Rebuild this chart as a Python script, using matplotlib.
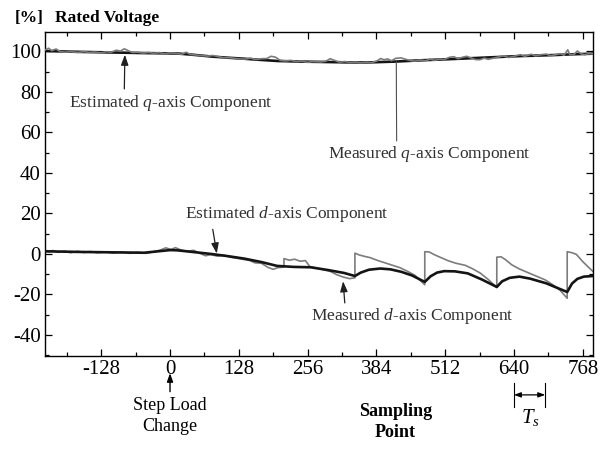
import matplotlib

matplotlib.use("Agg")
import matplotlib.pyplot as plt
from matplotlib.ticker import MultipleLocator

plt.rcParams["font.family"] = ["Liberation Serif", "DejaVu Serif"]
plt.rcParams["mathtext.fontset"] = "custom"
plt.rcParams["mathtext.rm"] = "Liberation Serif"
plt.rcParams["mathtext.it"] = "Liberation Serif:italic"
plt.rcParams["axes.unicode_minus"] = False

# q-axis voltage, estimated and measured (% of rated)
q_est_x = [-232, -170, -110, -50, 13, 45, 76, 108, 138, 170, 199, 240, 286,
           330, 372, 420, 465, 530, 589, 650, 713, 750, 787]
q_est_y = [100.2, 99.8, 99.5, 99.2, 99.0, 98.3, 97.5, 96.9, 96.4, 95.8, 95.3,
           95.0, 94.8, 94.6, 94.6, 95.0, 95.6, 96.3, 97.0, 97.7, 98.2, 98.6, 98.9]

q_meas_x = [-232, -226, -220, -212, -205, -195, -185, -172, -160, -150, -140,
            -128, -118, -110, -100, -92, -85, -78, -70, -60, -50, -40, -30,
            -20, -10, 0, 10, 22, 30, 38, 50, 60, 70, 80, 90, 100, 110, 120,
            130, 140, 150, 160, 170, 180, 188, 196, 205, 215, 225, 235, 245,
            255, 265, 280, 290, 298, 306, 315, 325, 335, 345, 355, 365, 375,
            385, 392, 398, 405, 412, 420, 430, 440, 447, 455, 465, 475, 484,
            492, 502, 510, 520, 528, 536, 545, 552, 560, 568, 576, 585, 592,
            600, 610, 620, 630, 640, 652, 660, 672, 680, 690, 700, 708, 716,
            726, 733, 740, 744, 752, 758, 765, 772, 780, 787]
q_meas_y = [100.8, 101.6, 100.4, 101.2, 100.0, 99.6, 99.9, 99.5, 99.9, 99.5,
            99.7, 99.3, 99.9, 99.6, 100.6, 100.2, 101.3, 100.4, 99.5, 99.6,
            99.2, 99.5, 99.1, 99.4, 98.9, 99.3, 99.1, 98.6, 99.6, 98.5, 98.2,
            97.9, 97.7, 98.0, 97.4, 96.9, 96.9, 96.6, 96.3, 96.2, 96.7, 96.0,
            96.4, 96.5, 97.6, 97.2, 95.6, 95.3, 95.6, 95.0, 95.2, 94.6, 95.0,
            94.8, 95.2, 96.4, 95.6, 94.7, 95.0, 94.6, 94.8, 94.5, 94.7, 94.5,
            95.3, 96.5, 95.9, 96.3, 95.4, 96.6, 96.8, 96.0, 95.5, 95.2, 95.8,
            95.4, 96.2, 95.6, 96.2, 96.0, 97.1, 97.4, 96.4, 97.2, 97.6, 96.8,
            96.0, 95.9, 96.7, 96.1, 96.6, 97.2, 97.8, 97.0, 97.6, 98.4, 97.6,
            98.6, 97.8, 98.4, 98.7, 97.9, 98.3, 98.9, 98.1, 100.8, 98.4, 98.6,
            100.2, 98.8, 98.4, 98.9, 98.8]

# d-axis voltage, estimated and measured (% of rated)
d_est_x = [-232, -170, -110, -48, 0, 13, 45, 76, 108, 138, 170, 199, 230,
           262, 295, 324, 344, 355, 370, 391, 410, 430, 450, 474, 485, 497,
           510, 530, 554, 580, 608, 618, 632, 650, 670, 700, 739, 748, 758,
           770, 787]
d_est_y = [1.3, 1.0, 0.8, 0.6, 1.9, 1.8, 0.9, 0.0, -1.1, -2.3, -4.0, -5.9,
           -6.4, -6.6, -8.0, -9.4, -10.9, -9.2, -7.8, -7.2, -7.6, -8.8, -10.6,
           -13.8, -11.0, -9.2, -8.5, -8.6, -9.6, -12.6, -16.3, -13.5, -11.8,
           -11.2, -12.2, -14.5, -18.8, -14.6, -12.3, -11.2, -10.9]

d_meas_x = [-232, -226, -218, -208, -196, -185, -172, -160, -148, -135, -120,
            -105, -90, -75, -60, -45, -30, -18, -8, 2, 10, 20, 32, 44, 55, 66,
            76, 88, 100, 112, 124, 136, 148, 158, 170, 182, 192, 200, 212, 212,
            222, 232, 242, 252, 260, 272, 286, 298, 310, 322, 334, 344, 344,
            352, 362, 372, 386, 400, 414, 428, 442, 456, 466, 474, 474, 482,
            492, 504, 518, 532, 549, 562, 577, 592, 608, 608, 616, 624, 636,
            650, 664, 680, 698, 712, 726, 739, 739, 748, 756, 768, 778, 787]
d_meas_y = [1.9, 1.0, 1.7, 0.8, 1.4, 0.6, 1.3, 0.7, 1.2, 0.6, 1.0, 0.4, 1.0,
            0.3, 0.8, 0.3, 1.1, 1.9, 3.0, 2.2, 3.1, 2.0, 1.3, 1.8, 0.4, -0.9,
            -0.3, -1.1, -0.6, -1.6, -2.1, -2.7, -3.2, -4.4, -4.6, -6.6, -7.6,
            -6.8, -6.5, -2.3, -3.1, -2.6, -3.6, -3.3, -6.2, -7.0, -7.8, -8.6,
            -10.2, -11.4, -12.2, -11.8, 0.4, -0.5, -1.2, -1.8, -3.2, -4.4,
            -5.6, -6.8, -8.6, -10.6, -13.2, -15.2, 1.1, 1.0, -0.4, -1.8, -3.4,
            -4.6, -5.6, -7.2, -9.4, -12.6, -16.6, -1.6, -1.4, -2.8, -5.4, -7.4,
            -9.0, -10.8, -12.8, -15.2, -18.0, -21.9, 1.1, 0.6, -0.2, -3.8,
            -6.4, -8.7]

x_ticks = [-128, 0, 128, 256, 384, 512, 640, 768]
y_ticks = [-40, -20, 0, 20, 40, 60, 80, 100]
period_start, period_end = 640, 698

fig = plt.figure(figsize=(6.12, 4.5), dpi=100)
ax = fig.add_axes([45 / 612, 1 - 356 / 450, 548 / 612, 324 / 450])

est_style = dict(color="#141414", lw=1.9, solid_joinstyle="round")
meas_style = dict(color="#7c7c7c", lw=1.2, solid_joinstyle="round")
ax.plot(q_est_x, q_est_y, **est_style, zorder=2)
ax.plot(q_meas_x, q_meas_y, **meas_style, zorder=3)
ax.plot(d_est_x, d_est_y, **est_style, zorder=3)
ax.plot(d_meas_x, d_meas_y, **meas_style, zorder=2)

ax.set_xlim(-232.6, 787)
ax.set_ylim(-50.4, 109.6)
ax.set_xticks(x_ticks)
ax.set_yticks(y_ticks)
ax.xaxis.set_minor_locator(MultipleLocator(64))
ax.yaxis.set_minor_locator(MultipleLocator(10))
ax.tick_params(which="both", direction="in", top=True, right=True,
               labelsize=15, width=0.9)
ax.tick_params(which="major", length=5, pad=3)
ax.tick_params(which="minor", length=3)
for spine in ax.spines.values():
    spine.set_linewidth(1.0)

label_kw = dict(fontsize=12.5, color="#303030")
arrow_kw = dict(arrowstyle="-|>,head_length=0.5,head_width=0.18",
                color="#202020", lw=0.9)
ax.annotate(r"Estimated $q$-axis Component", xy=(-84, 98.4), xytext=(2, 74.5),
            ha="center", va="center",
            arrowprops=dict(**arrow_kw, shrinkA=1, shrinkB=0,
                            relpos=(0.27, 1.0)), **label_kw)
ax.annotate(r"Measured $q$-axis Component", xy=(421, 95.2), xytext=(482, 49.5),
            ha="center", va="center",
            arrowprops=dict(arrowstyle="-", color="#505050", lw=0.8,
                            shrinkA=0, shrinkB=0,
                            relpos=(0.34, 1.0)), **label_kw)
ax.annotate(r"Estimated $d$-axis Component", xy=(87, 0.2), xytext=(218, 19.8),
            ha="center", va="center",
            arrowprops=dict(**arrow_kw, shrinkA=2, shrinkB=0,
                            relpos=(0.13, 0.0)), **label_kw)
ax.annotate(r"Measured $d$-axis Component", xy=(322, -13.5),
            xytext=(450, -30.5), ha="center", va="center",
            arrowprops=dict(**arrow_kw, shrinkA=0, shrinkB=0,
                            relpos=(0.17, 1.0)), **label_kw)

xt = ax.get_xaxis_transform()
ax.annotate("", xy=(0, -0.053), xytext=(0, -0.11), xycoords=xt,
            textcoords=xt,
            arrowprops=dict(arrowstyle="-|>,head_length=0.5,head_width=0.18",
                            color="black", lw=1.0, shrinkA=0, shrinkB=0),
            annotation_clip=False)
ax.text(0, -0.125, "Step Load\nChange", transform=xt, ha="center", va="top",
        fontsize=13, linespacing=1.35)
ax.text(419, -0.145, "Sampling\nPoint", transform=xt, ha="center", va="top",
        fontsize=13, fontweight="bold", linespacing=1.3)

# sampling period marker
for xv in (period_start, period_end):
    ax.plot([xv, xv], [-0.083, -0.157], transform=xt, color="black", lw=0.8,
            clip_on=False)
ax.annotate("", xy=(period_start, -0.12), xytext=(period_end, -0.12),
            xycoords=xt, textcoords=xt, annotation_clip=False,
            arrowprops=dict(arrowstyle="<|-|>,head_length=0.4,head_width=0.15",
                            color="black", lw=0.9, shrinkA=0, shrinkB=0))
ax.text((period_start + period_end) / 2 + 2, -0.19, r"$T_s$", transform=xt,
        ha="center", va="center", fontsize=15)

fig.text(15 / 612, 1 - 18 / 450, "[%]", fontsize=12.5, fontweight="bold",
         va="center")
fig.text(55 / 612, 1 - 18 / 450, "Rated Voltage", fontsize=12.5,
         fontweight="bold", va="center")

fig.savefig("out.png", dpi=100)
